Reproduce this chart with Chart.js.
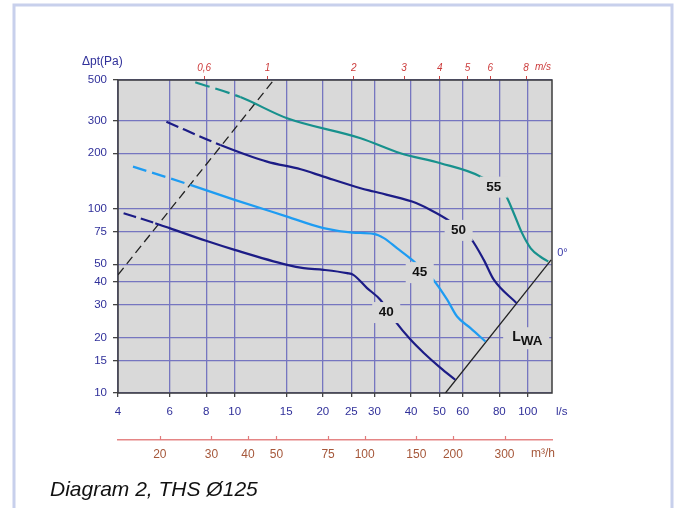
<!DOCTYPE html>
<html>
<head>
<meta charset="utf-8">
<script src="https://cdn.jsdelivr.net/npm/chart.js@4.4.1/dist/chart.umd.min.js"></script>
<style>
  html, body { margin: 0; padding: 0; background: #fff; }
  #wrap { width: 678px; height: 508px; position: relative; }
</style>
</head>
<body>
<div id="wrap"><canvas id="diagram" width="678" height="508"></canvas></div>
<script>
// axis ticks (l/s, Pa, m/s, m3/h)
const flowTicks = [4, 6, 8, 10, 15, 20, 25, 30, 40, 50, 60, 80, 100];
const pressureTicks = [10, 15, 20, 30, 40, 50, 75, 100, 200, 300, 500];
const velocityTicks = [0.6, 1, 2, 3, 4, 5, 6, 8];
const m3hTicks = [20, 30, 40, 50, 75, 100, 150, 200, 300];

const flowMin = 4, flowMax = 121;
const pMin = 10, pMax = 500;
const lsPerMs = Math.PI * 0.125 * 0.125 / 4 * 1000; // Ø125 duct, l/s at 1 m/s

// sound level curves: flow (l/s) and pressure (Pa), first segment is dashed
const q55 = [7.34, 10.46, 15.1, 26.9, 36.8, 50.4, 69.0, 83.9, 89.6, 95.2, 102.4, 110.5, 117.5];
const p55 = [486, 404, 310, 241.5, 200.2, 176.7, 149.5, 119.0, 94.6, 74.9, 61.0, 54.9, 51.7];

const q50 = [5.85, 8.94, 12.9, 16.8, 20.1, 26.9, 29.8, 40.3, 46.6, 54.5, 63.8, 70.8, 76.6, 91.5];
const p50 = [297, 222, 180.3, 163.9, 149.5, 129.3, 124.0, 109.4, 98.6, 85.2, 69.3, 52.8, 41.2, 30.8];

const q45 = [4.5, 7.06, 10.0, 15.1, 20.1, 25.2, 29.8, 32.3, 35.8, 40.3, 47.6, 53.1, 57.4, 63.8, 71.7];
const p45 = [169.4, 134.8, 111.8, 90.7, 78.5, 74.3, 73.1, 69.3, 61.1, 52.8, 41.2, 32.1, 26.0, 22.5, 19.05];

const q40 = [4.18, 5.36, 6.0, 7.99, 10.0, 15.1, 17.2, 20.1, 24.2, 25.4, 28.3, 31.4, 35.4, 39.8, 44.2, 50.4, 56.6];
const p40 = [94.6, 83.5, 78.5, 67.0, 59.8, 49.6, 47.6, 46.6, 44.7, 43.8, 37.1, 32.1, 24.4, 19.5, 16.5, 13.7, 11.8];

// LWA limit line and the dashed line upper left
const lwaQ = [52.4, 120.2];
const lwaP = [10, 52.8];
const dashQ = [4, 13.6];
const dashP = [43.8, 500];

// curve labels
const curveLabels = ['55', '50', '45', '40'];
const curveLabelQ = [76.6, 58.1, 42.8, 32.9];
const curveLabelP = [131.9, 76.8, 45.3, 27.5];
const lwaLabelQ = 88.5, lwaLabelP = 19.1;

const plotBg = '#d9d9d9';
const gridColor = '#7676c0';
const axisBlue = '#30309a';
const font = '"Liberation Sans", Arial, sans-serif';
Chart.defaults.font.family = font;

function pts(qs, ps) {
  return qs.map((q, i) => ({ x: q, y: ps[i] }));
}

function curve(qs, ps, color, dash) {
  return {
    data: pts(qs, ps),
    showLine: true,
    borderColor: color,
    borderWidth: 2.2,
    pointRadius: 0,
    cubicInterpolationMode: 'monotone',
    segment: { borderDash: c => c.p0DataIndex === 0 ? dash : undefined }
  };
}

const decor = {
  id: 'decor',
  beforeDraw(chart) {
    const { ctx, chartArea: a } = chart;
    ctx.save();
    // light frame round the picture
    ctx.strokeStyle = '#c8d0ec';
    ctx.lineWidth = 3;
    ctx.beginPath();
    ctx.moveTo(14, 508); ctx.lineTo(14, 5); ctx.lineTo(672, 5); ctx.lineTo(672, 508);
    ctx.stroke();
    ctx.fillStyle = plotBg;
    ctx.fillRect(a.left, a.top, a.right - a.left, a.bottom - a.top);
    ctx.restore();
  },
  beforeDatasetsDraw(chart) {
    const { ctx, chartArea: a } = chart;
    ctx.save();
    ctx.strokeStyle = '#3c3c3c';
    ctx.lineWidth = 1.5;
    ctx.strokeRect(a.left, a.top, a.right - a.left, a.bottom - a.top);
    ctx.restore();
  },
  afterDatasetsDraw(chart) {
    const { ctx } = chart;
    const sx = chart.scales.x, sy = chart.scales.y;
    ctx.save();
    ctx.textAlign = 'center';
    ctx.textBaseline = 'middle';
    curveLabels.forEach((t, i) => {
      const x = sx.getPixelForValue(curveLabelQ[i]);
      const y = sy.getPixelForValue(curveLabelP[i]);
      ctx.fillStyle = plotBg;
      ctx.fillRect(x - 14, y - 10, 28, 21);
      ctx.fillStyle = '#111';
      ctx.font = 'bold 13.5px ' + font;
      ctx.fillText(t, x, y + 0.5);
    });
    // LWA
    const lx = sx.getPixelForValue(lwaLabelQ);
    const ly = sy.getPixelForValue(lwaLabelP);
    ctx.fillStyle = plotBg;
    ctx.fillRect(lx - 9, ly - 14, 46, 22);
    ctx.fillStyle = '#111';
    ctx.textAlign = 'left';
    ctx.textBaseline = 'alphabetic';
    ctx.font = 'bold 14px ' + font;
    ctx.fillText('L', lx, ly);
    const lw = ctx.measureText('L').width;
    ctx.font = 'bold 13.5px ' + font;
    ctx.fillText('WA', lx + lw, ly + 4);
    ctx.restore();
  },
  afterDraw(chart) {
    const { ctx, chartArea: a } = chart;
    const sx = chart.scales.x, sy = chart.scales.y, s3 = chart.scales.x3;
    ctx.save();
    // upward ticks on the m3/h axis
    ctx.strokeStyle = '#e07b7b';
    ctx.lineWidth = 1.2;
    m3hTicks.forEach(v => {
      const x = Math.round(s3.getPixelForValue(v)) + 0.5;
      ctx.beginPath();
      ctx.moveTo(x, s3.top - 4);
      ctx.lineTo(x, s3.top);
      ctx.stroke();
    });
    ctx.textBaseline = 'middle';
    ctx.textAlign = 'left';
    ctx.fillStyle = axisBlue;
    ctx.font = '12px ' + font;
    ctx.fillText('\u0394pt(Pa)', 82, 62);
    ctx.font = '11.5px ' + font;
    ctx.fillText('l/s', a.right + 4, 412);
    ctx.fillStyle = '#cc3b3b';
    ctx.font = 'italic 10px ' + font;
    ctx.fillText('m/s', a.right - 17, 67.5);
    ctx.fillStyle = '#a5573a';
    ctx.font = '12px ' + font;
    ctx.fillText('m\u00b3/h', a.right - 21, 454);
    // 0° at the end of the LWA line
    ctx.fillStyle = '#3a3aa8';
    ctx.font = '11px ' + font;
    ctx.fillText('0\u00b0', sx.getPixelForValue(lwaQ[1]) + 6, sy.getPixelForValue(lwaP[1]) - 7);
    // caption
    ctx.fillStyle = '#111';
    ctx.textBaseline = 'alphabetic';
    ctx.font = 'italic 21px ' + font;
    ctx.fillText('Diagram 2, THS \u00d8125', 50, 496);
    ctx.restore();
  }
};

const ctx = document.getElementById('diagram').getContext('2d');
new Chart(ctx, {
  type: 'scatter',
  data: {
    datasets: [
      curve(q55, p55, '#17918d', [15, 6]),
      curve(q50, p50, '#1c1c86', [13, 5]),
      curve(q45, p45, '#1e9cf2', [14, 6]),
      curve(q40, p40, '#1c1c86', [13, 5]),
      { data: pts(dashQ, dashP), showLine: true, borderColor: '#222', borderWidth: 1.3, borderDash: [9, 5], pointRadius: 0 },
      { data: pts(lwaQ, lwaP), showLine: true, borderColor: '#222', borderWidth: 1.3, pointRadius: 0 }
    ]
  },
  options: {
    responsive: false,
    animation: false,
    layout: { padding: { left: 0, top: 0, right: 126, bottom: 38 } },
    plugins: { legend: { display: false }, tooltip: { enabled: false } },
    scales: {
      x: {
        type: 'logarithmic', position: 'bottom', weight: 0,
        min: flowMin, max: flowMax,
        afterBuildTicks: s => { s.ticks = flowTicks.map(v => ({ value: v })); },
        afterFit: s => { s.height = 47; },
        grid: { color: gridColor, lineWidth: 1.3, tickLength: 4, tickColor: '#444' },
        border: { display: false },
        ticks: { autoSkip: false, maxRotation: 0, padding: 8, color: axisBlue, font: { size: 11.5 }, callback: v => String(v) }
      },
      x3: {
        type: 'logarithmic', axis: 'x', position: 'bottom', weight: 1,
        min: flowMin * 3.6, max: flowMax * 3.6,
        afterBuildTicks: s => { s.ticks = m3hTicks.map(v => ({ value: v })); },
        afterFit: s => { s.height = 30; },
        grid: { drawOnChartArea: false, drawTicks: false },
        border: { display: true, color: '#e58585', width: 1.5 },
        ticks: { autoSkip: false, maxRotation: 0, padding: 7, color: '#a5573a', font: { size: 12 }, callback: v => String(v) }
      },
      x2: {
        type: 'logarithmic', axis: 'x', position: 'top',
        min: flowMin / lsPerMs, max: flowMax / lsPerMs,
        afterBuildTicks: s => { s.ticks = velocityTicks.map(v => ({ value: v })); },
        afterFit: s => { s.height = 80; },
        grid: { drawOnChartArea: false, tickLength: 4, tickColor: '#cc4444' },
        border: { display: false },
        ticks: { autoSkip: false, maxRotation: 0, padding: 2, color: '#cc3b3b', font: { size: 10, style: 'italic' }, callback: v => String(v).replace('.', ',') }
      },
      y: {
        type: 'logarithmic', position: 'left',
        min: pMin, max: pMax,
        afterBuildTicks: s => { s.ticks = pressureTicks.map(v => ({ value: v })); },
        afterFit: s => { s.width = 118; },
        grid: { color: gridColor, lineWidth: 1.3, tickLength: 5, tickColor: '#444' },
        border: { display: false },
        ticks: { autoSkip: false, padding: 6, color: axisBlue, font: { size: 11.5 }, callback: v => String(v) }
      }
    }
  },
  plugins: [decor]
});
</script>
</body>
</html>
